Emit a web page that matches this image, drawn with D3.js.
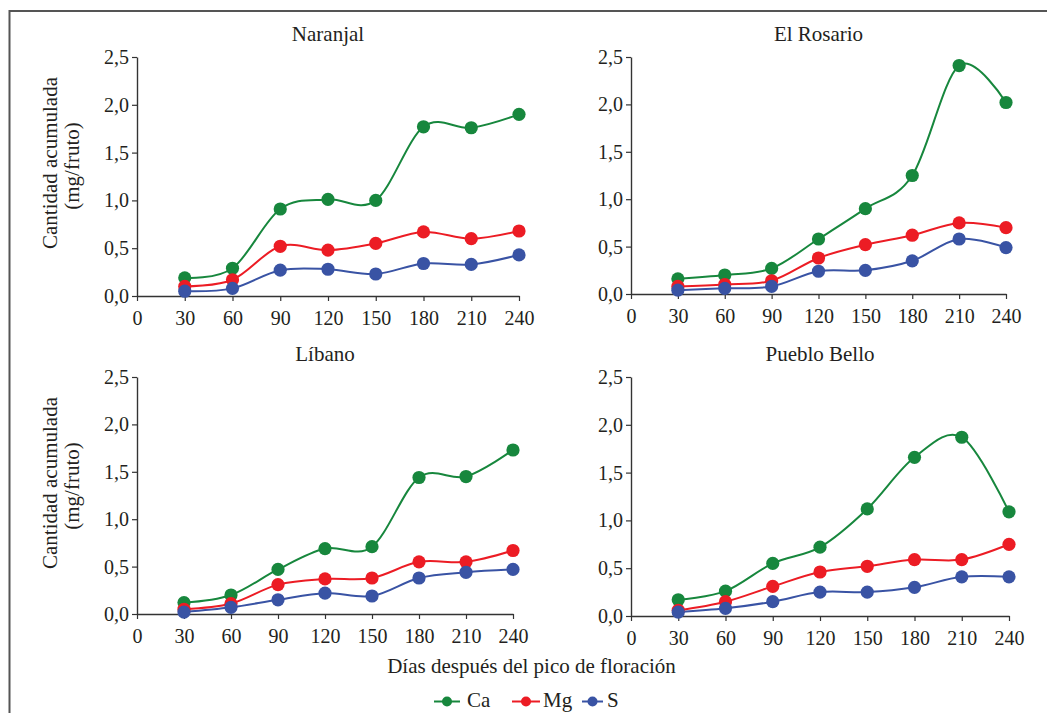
<!DOCTYPE html>
<html>
<head>
<meta charset="utf-8">
<script src="https://cdn.jsdelivr.net/npm/d3@7/dist/d3.min.js"></script>
<style>
  html, body { margin: 0; padding: 0; background: #fff; }
  svg { display: block; }
  svg text { font-family: 'Liberation Serif', 'Times New Roman', serif; fill: #231f20; }
</style>
</head>
<body>
<svg id="chart" width="1047" height="713"></svg>
<script>
// Days after flowering peak
const days = [30, 60, 90, 120, 150, 180, 210, 240];
const xTicks = [0, 30, 60, 90, 120, 150, 180, 210, 240];
const yTicks = [0, 0.5, 1.0, 1.5, 2.0, 2.5];
const siteNames = ["Naranjal", "El Rosario", "Líbano", "Pueblo Bello"];
const nutrients = ["Ca", "Mg", "S"];
const nutrientColors = ["#17873d", "#ec1c24", "#3953a4"];

// Accumulated amount (mg/fruit) per site and nutrient
const naranjalCa = [0.19, 0.29, 0.91, 1.01, 1.00, 1.77, 1.76, 1.90];
const naranjalMg = [0.10, 0.17, 0.52, 0.48, 0.55, 0.67, 0.60, 0.68];
const naranjalS  = [0.05, 0.08, 0.27, 0.28, 0.23, 0.34, 0.33, 0.43];

const rosarioCa = [0.16, 0.20, 0.27, 0.58, 0.90, 1.25, 2.41, 2.02];
const rosarioMg = [0.08, 0.10, 0.14, 0.38, 0.52, 0.62, 0.75, 0.70];
const rosarioS  = [0.04, 0.06, 0.08, 0.24, 0.25, 0.35, 0.58, 0.49];

const libanoCa = [0.12, 0.20, 0.47, 0.69, 0.71, 1.44, 1.45, 1.73];
const libanoMg = [0.05, 0.11, 0.31, 0.37, 0.38, 0.55, 0.55, 0.67];
const libanoS  = [0.02, 0.07, 0.15, 0.22, 0.19, 0.38, 0.44, 0.47];

const puebloCa = [0.17, 0.26, 0.55, 0.72, 1.12, 1.66, 1.87, 1.09];
const puebloMg = [0.06, 0.15, 0.31, 0.46, 0.52, 0.59, 0.59, 0.75];
const puebloS  = [0.04, 0.08, 0.15, 0.25, 0.25, 0.30, 0.41, 0.41];

const siteSeries = [
  [naranjalCa, naranjalMg, naranjalS],
  [rosarioCa, rosarioMg, rosarioS],
  [libanoCa, libanoMg, libanoS],
  [puebloCa, puebloMg, puebloS]
];

// Plot areas of the four panels
const boxes = [
  { left: 137, right: 519, top: 57,  bottom: 296, yLabel: true },
  { left: 631, right: 1006, top: 57, bottom: 294, yLabel: false },
  { left: 137, right: 513, top: 377, bottom: 614, yLabel: true },
  { left: 631, right: 1009, top: 377, bottom: 616, yLabel: false }
];

const FONT = "'Liberation Serif', 'Times New Roman', serif";
const svg = d3.select("#chart");
const axisColor = "#333";
const fmt = v => d3.format(".1f")(v).replace(".", ",");

// outer frame (open at right and bottom edges of the page)
svg.append("rect")
  .attr("x", 9.5).attr("y", 11)
  .attr("width", 1100).attr("height", 800)
  .attr("fill", "none").attr("stroke", "#555").attr("stroke-width", 2);

siteNames.forEach((name, i) => {
  const b = boxes[i];
  const x = d3.scaleLinear().domain([0, 240]).range([b.left, b.right]);
  const y = d3.scaleLinear().domain([0, 2.5]).range([b.bottom, b.top]);
  const g = svg.append("g");

  // x axis
  const xAxis = g.append("g")
    .attr("transform", `translate(0,${b.bottom})`)
    .call(d3.axisBottom(x).tickValues(xTicks).tickSize(5).tickPadding(10).tickSizeOuter(0));
  // y axis
  const yAxis = g.append("g")
    .attr("transform", `translate(${b.left},0)`)
    .call(d3.axisLeft(y).tickValues(yTicks).tickFormat(fmt).tickSize(5).tickPadding(3).tickSizeOuter(0));

  [xAxis, yAxis].forEach(ax => {
    ax.attr("font-family", FONT).attr("font-size", 20);
    ax.select(".domain").attr("stroke", axisColor).attr("stroke-width", 1.4);
    ax.selectAll(".tick line").attr("stroke", axisColor).attr("stroke-width", 1.2);
    ax.selectAll(".tick text")
      .attr("fill", "#231f20")
      .attr("font-family", FONT)
      .attr("font-size", 20);
  });

  // panel title
  g.append("text")
    .attr("x", (b.left + b.right) / 2)
    .attr("y", b.top - 16)
    .attr("text-anchor", "middle")
    .attr("font-family", FONT)
    .attr("font-size", 21)
    .text(name);

  // y axis title
  if (b.yLabel) {
    const cy = b.top + 106;
    g.append("text")
      .attr("transform", `translate(56.5,${cy}) rotate(-90)`)
      .attr("text-anchor", "middle")
      .attr("font-family", FONT)
      .attr("font-size", 21)
      .text("Cantidad acumulada");
    g.append("text")
      .attr("transform", `translate(79,${cy + 3}) rotate(-90)`)
      .attr("text-anchor", "middle")
      .attr("font-family", FONT)
      .attr("font-size", 21)
      .text("(mg/fruto)");
  }

  const line = d3.line()
    .x((d, k) => x(days[k]))
    .y(d => y(d))
    .curve(d3.curveCardinal.tension(0));

  // lines first (S at the bottom), then the markers
  [2, 1, 0].forEach(s => {
    g.append("path")
      .datum(siteSeries[i][s])
      .attr("d", line)
      .attr("fill", "none")
      .attr("stroke", nutrientColors[s])
      .attr("stroke-width", 2);
  });
  [0, 1, 2].forEach(s => {
    g.selectAll(null)
      .data(siteSeries[i][s])
      .join("circle")
      .attr("cx", (d, k) => x(days[k]))
      .attr("cy", d => y(d))
      .attr("r", 6.6)
      .attr("fill", nutrientColors[s]);
  });
});

// common x axis title
svg.append("text")
  .attr("x", 531.5)
  .attr("y", 673)
  .attr("text-anchor", "middle")
  .attr("font-family", FONT)
  .attr("font-size", 21)
  .text("Días después del pico de floración");

// legend
const legendItems = [
  { x0: 434, x1: 460, tx: 467 },
  { x0: 512, x1: 540, tx: 543 },
  { x0: 582, x1: 603, tx: 607 }
];
const ly = 701.5;
nutrients.forEach((n, i) => {
  const it = legendItems[i];
  svg.append("line")
    .attr("x1", it.x0).attr("x2", it.x1)
    .attr("y1", ly).attr("y2", ly)
    .attr("stroke", nutrientColors[i]).attr("stroke-width", 2);
  svg.append("circle")
    .attr("cx", (it.x0 + it.x1) / 2).attr("cy", ly)
    .attr("r", 5).attr("fill", nutrientColors[i]);
  svg.append("text")
    .attr("x", it.tx).attr("y", ly + 5.5)
    .attr("font-family", FONT)
    .attr("font-size", 21)
    .text(n);
});
</script>
</body>
</html>
